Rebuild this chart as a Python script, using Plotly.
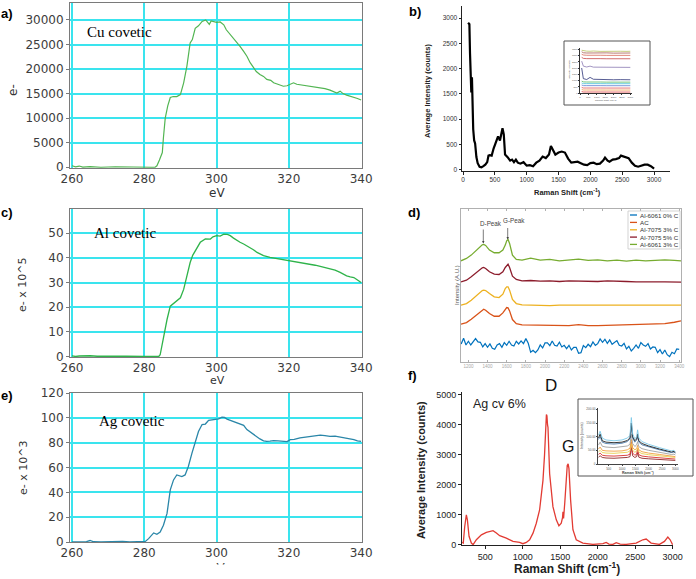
import plotly.graph_objects as go

W, H = 696, 579

# ---------------- panel a : Cu covetic (EELS) ----------------
cu_ev = [260, 261, 262, 263, 265, 268, 272, 276, 280, 282, 283, 283.5, 284.2, 285, 285.3, 285.8,
         286.5, 287.2, 288, 289, 290, 290.9, 291.8, 292.7, 293.3, 294.1, 295, 296, 297, 297.6, 298,
         298.5, 299, 300, 301, 302, 302.7, 303.5, 304.7, 305.5, 306.5, 307.5, 308.4, 309.3, 310.2,
         311, 312, 313, 313.9, 315, 315.8, 317, 318.5, 319.5, 320.4, 321.3, 322.2, 323.1, 324.5,
         325.9, 327.3, 328.7, 330, 331.4, 332.4, 333.3, 334.2, 335, 336, 337, 338, 339, 340]
cu_counts = [300, 100, 250, 50, 150, 0, 100, 0, 50, 0, 0, 300, 1500, 3000, 6000, 10000,
             12500, 14200, 14400, 14400, 14800, 17200, 20600, 25300, 26000, 28300, 28800, 29700, 30000, 29300, 29100,
             29800, 29700, 29500, 29600, 29000, 28000, 27300, 26300, 25500, 24600, 23600, 22600, 21300, 20200,
             19500, 18900, 18500, 17900, 17700, 17200, 16900, 16500, 16600, 16900, 17200, 16900, 16800, 16600,
             16400, 16300, 16100, 16000, 15700, 15300, 15100, 15500, 15000, 14700, 14500, 14300, 14000, 13700]
cu_ticks_y = [0, 5000, 10000, 15000, 20000, 25000, 30000]

# ---------------- panel c : Al covetic ----------------
al_ev = [260, 261, 262, 263.5, 265, 267, 270, 275, 280, 283, 284, 284.4, 285.3, 286.3, 287.2, 288.1,
         289, 290, 290.9, 291.8, 292.7, 293.4, 294.1, 295.5, 296.9, 298.3, 299, 300, 301, 302, 303,
         303.8, 304.7, 305.6, 306.5, 307.5, 308.4, 309.3, 310.2, 311.2, 312, 313, 314.8, 316, 317.6,
         319, 320.4, 322, 323.1, 324.5, 325.9, 327.3, 328.7, 330, 331.4, 332.8, 334.2, 335, 336, 337,
         338, 339, 340]
al_e5 = [0.3, 0, 0.2, 0.4, 0.3, 0.1, 0, 0.1, 0, 0, 0, 0.7, 8.2, 15, 20.4, 21.5,
         22.3, 23.8, 27.2, 32.7, 38.1, 41, 42.9, 46.3, 47.7, 47.6, 48.5, 49, 48.8, 49.6, 49.5,
         49, 48, 47, 46.3, 45.6, 44.8, 44.3, 43.3, 42.2, 41.5, 40.9, 40.2, 39.9, 39.5,
         39.2, 38.8, 38.6, 38.1, 37.8, 37.5, 37, 36.5, 36.1, 35.4, 35, 34.1, 33.5, 32.7, 32.3,
         32, 31, 30]
al_ticks_y = [0, 10, 20, 30, 40, 50]

# ---------------- panel e : Ag covetic ----------------
ag_ev = [260, 262, 264, 265, 266, 268, 270, 272, 274, 276, 278, 280, 280.3, 281.2, 282, 282.6,
         283.5, 284.4, 285.3, 286.3, 287.2, 288.1, 289, 289.7, 290.4, 291.3, 292.2, 293.2, 294.1, 295,
         296, 296.9, 297.8, 299.2, 300.6, 301.5, 302.2, 302.9, 303.8, 304.7, 305.6, 306.5, 307.5,
         308.4, 309.3, 310.2, 311.1, 312, 313, 313.9, 314.8, 315.8, 317, 318.5, 319.5, 320.4, 321.5,
         323.1, 324.5, 325.9, 327.3, 328.7, 330, 331.4, 332.8, 334.2, 335.5, 336.5, 338, 339, 340]
ag_e3 = [0, 0, 0.3, 1.2, 0.2, 0, 0.3, 0, 0.5, 0, 0, 0, 0.5, 2.7, 5, 7.3,
         6.2, 8, 13.5, 23, 42, 50, 54, 53.5, 52.7, 54, 60.8, 71.6, 81, 89,
         94.6, 95, 98, 98.6, 99.2, 100.5, 100.3, 99, 98, 96.5, 96, 95, 94,
         90.5, 88.5, 86.5, 84.5, 83, 81.5, 81, 81.2, 81.6, 81.4, 80.8, 80.9, 82.4, 82.6,
         83.8, 84.2, 85, 85.3, 86, 85.7, 85, 85.3, 84.6, 84, 83, 82.5, 81.5, 81]
ag_ticks_y = [0, 20, 40, 60, 80, 100, 120]

eels_ticks = [260, 280, 300, 320, 340]

# ---------------- panel b : Raman ----------------
b_shift = [80, 100, 110, 120, 130, 140, 150, 160, 175, 190, 210, 230, 260, 290, 320, 350, 380, 400, 420, 450,
           480, 520, 550, 580, 600, 620, 640, 660, 700, 740, 770, 800, 830, 860, 900, 950, 1000, 1050, 1100, 1150,
           1200, 1250, 1300, 1350, 1380, 1420, 1450, 1500, 1550, 1600, 1650, 1700, 1750, 1800, 1850, 1900, 1950,
           2000, 2050, 2100, 2150, 2200, 2230, 2270, 2300, 2350, 2400, 2450, 2480, 2520, 2560, 2600, 2650, 2700,
           2750, 2800, 2850, 2900, 2950, 3000]
b_counts = [2910, 2880, 2300, 1550, 1530, 1830, 1200, 800, 580, 520, 250, 130, 60, 50, 70, 100, 150, 280, 290, 280,
            420, 560, 660, 580, 700, 820, 700, 300, 250, 180, 200, 150, 200, 140, 120, 150, 80, 90, 70, 140,
            180, 260, 230, 300, 470, 380, 300, 340, 360, 340, 220, 140, 150, 160, 130, 100, 90,
            130, 140, 110, 120, 180, 240, 180, 160, 200, 210, 230, 280, 260, 250, 230, 140, 80,
            60, 80, 100, 100, 70, 20]
b_ticks_x = [0, 500, 1000, 1500, 2000, 2500, 3000]
b_ticks_y = [0, 500, 1000, 1500, 2000, 2500, 3000]

# inset of panel b
bin_shift = [100, 200, 400, 600, 800, 1200, 1600, 2000, 2400, 2800, 3000]
bin_1 = [3420, 3380, 3350, 3340, 3360, 3330, 3350, 3330, 3340, 3330, 3340]
bin_2 = [3300, 3220, 3200, 3210, 3190, 3200, 3210, 3190, 3200, 3190, 3200]
bin_3 = [3100, 3040, 3020, 3030, 3010, 3020, 3010, 3020, 3010, 3020, 3010]
bin_4 = [2850, 2770, 2750, 2760, 2740, 2750, 2740, 2750, 2740, 2750, 2740]
bin_5 = [2550, 2150, 2080, 2150, 2070, 2060, 2080, 2050, 2060, 2040, 2050]
bin_6 = [2000, 1150, 1080, 1250, 1100, 1070, 1090, 1060, 1070, 1050, 1060]
bin_7 = [950, 890, 880, 890, 870, 880, 870, 880, 870, 880, 870]
bin_8 = [800, 750, 750, 760, 745, 750, 745, 750, 745, 750, 745]
bin_9 = [640, 590, 590, 600, 585, 590, 585, 590, 585, 590, 585]
bin_10 = [450, 400, 400, 410, 395, 400, 395, 400, 395, 400, 395]
bin_11 = [290, 240, 240, 250, 235, 240, 235, 240, 235, 240, 235]
bin_12 = [120, 80, 80, 90, 75, 80, 75, 80, 75, 80, 75]

# ---------------- panel d : Raman of Al covetics (stacked, A.U.) ----------------
d_names = ["Al-6061 0% C", "AC", "Al-7075 3% C", "Al-7075 5% C", "Al-6061 3% C"]
d_shift = [1123, 1180, 1230, 1280, 1320, 1345, 1360, 1380, 1420, 1470, 1520, 1560, 1585, 1600, 1614, 1630,
           1660, 1700, 1760, 1850, 1950, 2050, 2150, 2250, 2350, 2450, 2550, 2650, 2750, 2850, 2950, 3050,
           3150, 3250, 3350, 3419]
d_green = [3.03, 3.10, 3.20, 3.33, 3.45, 3.51, 3.52, 3.49, 3.35, 3.27, 3.27, 3.35, 3.50, 3.63, 3.67, 3.55,
           3.20, 3.07, 3.05, 3.11, 3.05, 3.07, 3.03, 3.05, 3.08, 3.04, 3.06, 3.03, 3.05, 3.02, 3.05, 3.03,
           3.05, 3.06, 3.04, 3.03]
d_darkred = [2.40, 2.45, 2.55, 2.67, 2.77, 2.82, 2.83, 2.80, 2.70, 2.63, 2.62, 2.70, 2.83, 2.90, 2.93, 2.83,
             2.57, 2.47, 2.43, 2.44, 2.42, 2.43, 2.41, 2.43, 2.42, 2.42, 2.41, 2.43, 2.41, 2.41, 2.40, 2.41,
             2.40, 2.40, 2.39, 2.39]
d_orange = [1.70, 1.75, 1.85, 1.97, 2.09, 2.14, 2.15, 2.14, 2.05, 1.95, 1.93, 2.03, 2.20, 2.25, 2.25, 2.15,
            1.87, 1.75, 1.71, 1.70, 1.70, 1.69, 1.70, 1.70, 1.69, 1.70, 1.70, 1.69, 1.70, 1.70, 1.69, 1.70,
            1.70, 1.69, 1.70, 1.70]
d_red = [1.13, 1.18, 1.28, 1.40, 1.51, 1.57, 1.58, 1.55, 1.45, 1.37, 1.37, 1.47, 1.59, 1.63, 1.62, 1.53,
         1.27, 1.15, 1.11, 1.11, 1.10, 1.10, 1.10, 1.09, 1.12, 1.09, 1.09, 1.10, 1.10, 1.11, 1.11, 1.13,
         1.14, 1.15, 1.19, 1.23]
d_blue_shift = [1125, 1150, 1175, 1200, 1225, 1250, 1275, 1300, 1325, 1350,
                1375, 1400, 1425, 1450, 1475, 1500, 1525, 1550, 1575, 1600,
                1625, 1650, 1675, 1700, 1725, 1750, 1775, 1800, 1825, 1850,
                1875, 1900, 1925, 1950, 1975, 2000, 2025, 2050, 2075, 2100,
                2125, 2150, 2175, 2200, 2225, 2250, 2275, 2300, 2325, 2350,
                2375, 2400, 2425, 2450, 2475, 2500, 2525, 2550, 2575, 2600,
                2625, 2650, 2675, 2700, 2725, 2750, 2775, 2800, 2825, 2850,
                2875, 2900, 2925, 2950, 2975, 3000, 3025, 3050, 3075, 3100,
                3125, 3150, 3175, 3200, 3225, 3250, 3275, 3300, 3325, 3350,
                3375, 3400]
d_blue = [0.54, 0.71, 0.51, 0.62, 0.51, 0.62, 0.70, 0.60, 0.59, 0.45,
          0.55, 0.44, 0.54, 0.41, 0.38, 0.51, 0.55, 0.44, 0.58, 0.50,
          0.62, 0.51, 0.48, 0.62, 0.54, 0.63, 0.55, 0.70, 0.56, 0.29,
          0.35, 0.28, 0.36, 0.51, 0.42, 0.57, 0.57, 0.49, 0.63, 0.50,
          0.48, 0.59, 0.45, 0.50, 0.40, 0.50, 0.36, 0.44, 0.44, 0.26,
          0.28, 0.49, 0.43, 0.53, 0.46, 0.60, 0.50, 0.55, 0.69, 0.59,
          0.68, 0.56, 0.66, 0.53, 0.60, 0.64, 0.50, 0.48, 0.56, 0.39,
          0.47, 0.33, 0.41, 0.51, 0.41, 0.58, 0.51, 0.47, 0.55, 0.39,
          0.45, 0.44, 0.28, 0.37, 0.24, 0.36, 0.22, 0.16, 0.29, 0.25,
          0.39, 0.38]
d_ticks_x = [1200, 1400, 1600, 1800, 2000, 2200, 2400, 2600, 2800, 3000, 3200, 3400]

# ---------------- panel f : Ag cv 6% Raman ----------------
f_shift = [190, 205, 224, 240, 246, 260, 282, 313, 336, 380, 447, 513, 560, 602, 647, 691, 780, 869, 958, 1000,
           1047, 1091, 1136, 1180, 1224, 1269, 1290, 1304, 1315, 1322, 1330, 1336, 1358, 1380, 1402, 1447, 1482,
           1513, 1530, 1536, 1544, 1560, 1571, 1593, 1605, 1616, 1638, 1669, 1713, 1802, 1936, 2069, 2113, 2150,
           2202, 2247, 2300, 2380, 2513, 2602, 2647, 2713, 2824, 2891, 2936, 2967, 3000]
f_counts = [80, 55, 600, 950, 1000, 830, 280, 55, 0, 165, 330, 410, 440, 470, 390, 300, 220, 110, 77, 33,
            77, 165, 385, 717, 1160, 2150, 3000, 3800, 4350, 4300, 4000, 3920, 2370, 1700, 1270, 830, 630,
            720, 900, 1100, 880, 1400, 1930, 2650, 2700, 2540, 1490, 500, 165, 55, 10, 33, 77, 20,
            10, 66, 20, 10, 55, 165, 190, 55, 10, 110, 255, 165, 0]
f_ticks_x = [500, 1000, 1500, 2000, 2500, 3000]
f_ticks_y = [0, 1000, 2000, 3000, 4000, 5000]

# inset of panel f
fin_shift = [120, 180, 260, 400, 700, 1000, 1200, 1300, 1350, 1400, 1480, 1550, 1585, 1630, 1750, 2000,
             2400, 2700, 2850, 2950, 3000]
fin_a = [105, 120, 95, 88, 85, 88, 95, 105, 170, 110, 92, 100, 125, 95, 82, 72, 60, 52, 48, 50, 45]
fin_b = [95, 110, 85, 80, 78, 80, 86, 96, 150, 100, 85, 92, 110, 85, 75, 66, 55, 48, 44, 46, 42]
fin_c = [90, 100, 80, 75, 73, 76, 82, 92, 140, 95, 80, 88, 100, 80, 70, 62, 52, 45, 42, 44, 40]
fin_d = [70, 80, 65, 62, 60, 62, 66, 72, 110, 75, 64, 70, 82, 64, 56, 50, 42, 38, 35, 36, 33]
fin_e = [55, 62, 50, 48, 47, 48, 52, 58, 90, 60, 52, 56, 68, 52, 45, 40, 35, 31, 29, 30, 27]
fin_f = [45, 50, 42, 40, 39, 40, 43, 48, 75, 50, 43, 47, 58, 44, 38, 34, 30, 27, 25, 26, 24]
fin_g = [35, 40, 32, 30, 29, 30, 32, 36, 80, 40, 32, 36, 55, 34, 29, 26, 23, 21, 19, 20, 18]
fin_h = [25, 30, 24, 22, 21, 22, 24, 27, 60, 30, 24, 27, 42, 25, 21, 19, 17, 15, 14, 15, 13]
fin_ticks_y = [0, 50, 100, 150, 200]
fin_ticktext_y = ["0", "50.00", "100.00", "150.00", "200.00"]


# ====================== helpers ======================
def px(x):
    return x / W


def py(y):
    return 1 - y / H


fig = go.Figure()


def line(x, y, xa, ya, color, width):
    fig.add_trace(go.Scatter(x=x, y=y, mode="lines", line=dict(color=color, width=width),
                             xaxis=xa, yaxis=ya, showlegend=False, hoverinfo="skip"))


annotations = []
shapes = []


def txt(text, x, y, size, family="Liberation Sans", color="#000000", angle=0, xanchor="center"):
    annotations.append(dict(text=text, x=px(x), y=py(y), xref="paper", yref="paper", showarrow=False,
                            xanchor=xanchor, yanchor="middle", textangle=angle,
                            font=dict(family=family, size=size, color=color)))


# ====================== traces ======================
line(cu_ev, cu_counts, "x", "y", "#52b552", 1.2)
line(b_shift, b_counts, "x2", "y2", "#000000", 2.2)
line(al_ev, al_e5, "x3", "y3", "#2fb34a", 1.3)

d_colors = ["#0072BD", "#D95319", "#EDB120", "#8C1C2C", "#77AC30"]
line(d_blue_shift, d_blue, "x4", "y4", d_colors[0], 1.2)
line(d_shift, d_red, "x4", "y4", d_colors[1], 1.3)
line(d_shift, d_orange, "x4", "y4", d_colors[2], 1.3)
line(d_shift, d_darkred, "x4", "y4", d_colors[3], 1.3)
line(d_shift, d_green, "x4", "y4", d_colors[4], 1.3)

line(ag_ev, ag_e3, "x5", "y5", "#2a86a8", 1.3)
line(f_shift, f_counts, "x6", "y6", "#e23b33", 1.3)

bin_series = [bin_12, bin_11, bin_10, bin_9, bin_8, bin_7, bin_6, bin_5, bin_4, bin_3, bin_2, bin_1]
bin_colors = ["#e04040", "#f0a050", "#e05858", "#5a7ed0", "#48c0d8", "#50b860", "#2c3478",
              "#8a7ab2", "#c84848", "#d86a58", "#a85a50", "#b8c060"]
for s, c in zip(bin_series, bin_colors):
    line(bin_shift, s, "x7", "y7", c, 0.8)

fin_series = [fin_h, fin_g, fin_f, fin_e, fin_d, fin_c, fin_b, fin_a]
fin_colors = ["#902828", "#d83030", "#e8d050", "#f0a040", "#a0a0a0", "#5080b0", "#222222", "#7cc8e8"]
for s, c in zip(fin_series, fin_colors):
    line(fin_shift, s, "x8", "y8", c, 0.9)

# ====================== axes ======================
GRID = "#3ae4ee"
FRAME = "#7a7a7a"
EELS_FONT = dict(family="DejaVu Sans", size=12, color="#3c3c3c")


def eels_x(anchor):
    return dict(domain=[px(70), px(362)], anchor=anchor, range=[259.45, 340.25],
                tickmode="array", tickvals=eels_ticks, ticktext=[str(v) for v in eels_ticks],
                showgrid=True, gridcolor=GRID, gridwidth=1.6,
                showline=True, mirror=True, linecolor=FRAME, linewidth=1, ticks="",
                tickfont=EELS_FONT, zeroline=False)


def eels_y(top, bot, rng, vals, anchor):
    return dict(domain=[py(bot), py(top)], anchor=anchor, range=rng, tickmode="array", tickvals=vals,
                ticktext=[str(v) for v in vals],
                showgrid=True, gridcolor=GRID, gridwidth=1.6, showline=True, mirror=True,
                linecolor=FRAME, linewidth=1, ticks="outside", ticklen=3, tickcolor=FRAME,
                tickfont=EELS_FONT, zeroline=False)


raman_font_b = dict(family="Liberation Sans", size=6.5, color="#333333")

axes = dict(
    # a
    xaxis=eels_x("y"),
    yaxis=eels_y(3, 168, [-150, 33450], cu_ticks_y, "x"),
    # b
    xaxis2=dict(domain=[px(462), px(670)], anchor="y2", range=[-16, 3250], tickmode="array",
                tickvals=b_ticks_x, showgrid=False, zeroline=False, showline=True, linecolor="#222",
                linewidth=1, ticks="outside", ticklen=2.5, tickcolor="#222", tickfont=raman_font_b),
    yaxis2=dict(domain=[py(171), py(6)], anchor="x2", range=[-25, 3240], tickmode="array",
                tickvals=b_ticks_y, showgrid=False, zeroline=False, showline=True, linecolor="#222",
                linewidth=1, ticks="outside", ticklen=2.5, tickcolor="#222", tickfont=raman_font_b),
    # c
    xaxis3=eels_x("y3"),
    yaxis3=eels_y(209, 357, [-0.2, 59.8], al_ticks_y, "x3"),
    # d
    xaxis4=dict(domain=[px(461), px(681)], anchor="y4", range=[1123, 3419], tickmode="array",
                tickvals=d_ticks_x, showgrid=False, zeroline=False, showline=True, mirror="ticks",
                linecolor="#b0b0b0", linewidth=1, ticks="inside", ticklen=2, tickcolor="#b0b0b0",
                tickfont=dict(family="Liberation Sans", size=4.5, color="#a8a8a8")),
    yaxis4=dict(domain=[py(362), py(209)], anchor="x4", range=[0, 4.58], showticklabels=False,
                showgrid=False, zeroline=False, showline=True, mirror=True, linecolor="#b0b0b0",
                linewidth=1, ticks=""),
    # e
    xaxis5=eels_x("y5"),
    yaxis5=eels_y(393, 542, [0, 120], ag_ticks_y, "x5"),
    # f
    xaxis6=dict(domain=[px(462), px(673)], anchor="y6", range=[188, 3005], tickmode="array",
                tickvals=f_ticks_x, showgrid=False, zeroline=False, showline=True, linecolor="#222",
                linewidth=1, ticks="outside", ticklen=3, tickcolor="#222",
                tickfont=dict(family="Liberation Sans", size=9, color="#222")),
    yaxis6=dict(domain=[py(545), py(392)], anchor="x6", range=[-10, 5100], tickmode="array",
                tickvals=f_ticks_y, showgrid=False, zeroline=False, showline=True, linecolor="#222",
                linewidth=1, ticks="outside", ticklen=3, tickcolor="#222",
                tickfont=dict(family="Liberation Sans", size=9, color="#222")),
    # inset b
    xaxis7=dict(domain=[px(580), px(632)], anchor="y7", range=[0, 3100], tickmode="array",
                tickvals=[0, 500, 1000, 1500, 2000, 2500, 3000], showgrid=False, zeroline=False,
                showline=True, linecolor="#333", linewidth=0.8, ticks="outside", ticklen=1,
                tickcolor="#333", tickfont=dict(family="Liberation Sans", size=2.5, color="#555")),
    yaxis7=dict(domain=[py(93), py(48)], anchor="x7", range=[0, 3600], tickmode="array",
                tickvals=[0, 500, 1000, 1500, 2000, 2500, 3000, 3500], showgrid=False, zeroline=False,
                showline=True, linecolor="#333", linewidth=0.8, ticks="outside", ticklen=1,
                tickcolor="#333", tickfont=dict(family="Liberation Sans", size=2.5, color="#555")),
    # inset f
    xaxis8=dict(domain=[px(598), px(678)], anchor="y8", range=[100, 3100], tickmode="array",
                tickvals=f_ticks_x, showgrid=False, zeroline=False, showline=True, linecolor="#444",
                linewidth=0.8, ticks="outside", ticklen=1, tickcolor="#444",
                tickfont=dict(family="Liberation Sans", size=3, color="#555")),
    yaxis8=dict(domain=[py(464), py(408)], anchor="x8", range=[0, 205], tickmode="array",
                tickvals=fin_ticks_y, ticktext=fin_ticktext_y, showgrid=False, zeroline=False,
                showline=True, linecolor="#444", linewidth=0.8, ticks="outside", ticklen=1,
                tickcolor="#444", tickfont=dict(family="Liberation Sans", size=3, color="#555")),
)
for k in axes:
    axes[k]["automargin"] = False

# ====================== texts ======================
for lab, x, y in [("a)", 7, 13), ("b)", 415, 12), ("c)", 7, 213), ("d)", 414, 212), ("e)", 7, 395), ("f)", 413, 375)]:
    txt("<b>" + lab + "</b>", x, y, 13)

txt("Cu covetic", 119, 32, 15, family="Liberation Serif")
txt("Al covetic", 125, 233, 15, family="Liberation Serif")
txt("Ag covetic", 132, 421, 15, family="Liberation Serif")
txt("eV", 217, 193, 12, family="DejaVu Sans", color="#333")
txt("eV", 217, 380, 11, family="DejaVu Sans", color="#333")
txt("eV", 217, 568, 12, family="DejaVu Sans", color="#333")
annotations.append(dict(text="\u00a0", x=px(217), y=py(573), xref="paper", yref="paper", showarrow=False,
                        xanchor="center", yanchor="middle", width=60, height=14, bgcolor="white",
                        font=dict(size=8)))
txt("e-", 13, 90, 12, family="DejaVu Sans", color="#333", angle=-90)
txt("e- x 10^5", 22, 285, 11, family="DejaVu Sans", color="#333", angle=-90)
txt("e- x 10^3", 23, 468, 11, family="DejaVu Sans", color="#333", angle=-90)

# panel b titles
txt("<b>Average Intensity (counts)</b>", 428, 91, 7.5, color="#222", angle=-90)
txt("<b>Raman Shift (cm<sup>-1</sup>)</b>", 567, 192, 7.5, color="#222")
shapes.append(dict(type="rect", xref="paper", yref="paper", x0=px(564), x1=px(650), y0=py(105), y1=py(41),
                   line=dict(color="#555", width=1), fillcolor="rgba(0,0,0,0)", layer="above"))
txt("Intensity (counts)", 569, 70, 2.5, color="#555", angle=-90)
txt("Raman Shift (cm-1)", 606, 100, 2.5, color="#555")

# panel d texts
txt("Intensity (A.U.)", 457, 285, 6, color="#555", angle=-90)
txt("D-Peak", 491, 223, 6.3, color="#444")
txt("G-Peak", 514, 221, 6.3, color="#444")
for xa, y0, y1 in [(483.3, 228, 243.5), (507.7, 226.5, 239.5)]:
    annotations.append(dict(text="", x=px(xa), y=py(y1), xref="paper", yref="paper", showarrow=True,
                            ax=0, ay=-(y1 - y0), arrowhead=2, arrowsize=0.7, arrowwidth=0.7,
                            arrowcolor="#444"))
shapes.append(dict(type="rect", xref="paper", yref="paper", x0=px(628), x1=px(680), y0=py(249), y1=py(211),
                   line=dict(color="#c8c8c8", width=0.8), fillcolor="white", layer="above"))
leg_y = [215, 222.4, 229.8, 237.1, 244.4]
for name, col, yy in zip(d_names, d_colors, leg_y):
    shapes.append(dict(type="line", xref="paper", yref="paper", x0=px(630), x1=px(637), y0=py(yy), y1=py(yy),
                       line=dict(color=col, width=1.3), layer="above"))
    txt(name, 637.8, yy, 6.2, color="#333", xanchor="left")

# panel f texts
txt("<b>Average Intensity (counts)</b>", 421, 470, 11, color="#222", angle=-90)
txt("<b>Raman Shift (cm<sup>-1</sup>)</b>", 567, 568, 12, color="#222")
txt("Ag cv 6%", 499, 404, 12.5, color="#222")
txt("D", 551, 385, 17, color="#111")
txt("G", 568, 446, 16, color="#111")
shapes.append(dict(type="rect", xref="paper", yref="paper", x0=px(578), x1=px(693), y0=py(476), y1=py(399),
                   line=dict(color="#555", width=1), fillcolor="rgba(0,0,0,0)", layer="above"))
txt("Intensity (counts)", 582, 436, 3.5, color="#444", angle=-90)
txt("<b>Raman Shift (cm<sup>-1</sup>)</b>", 638, 472.5, 3.6, color="#444")

fig.update_layout(width=W, height=H, margin=dict(l=0, r=0, t=0, b=0),
                  paper_bgcolor="white", plot_bgcolor="white", showlegend=False,
                  annotations=annotations, shapes=shapes, **axes)

fig.write_html("out.html", config={"displayModeBar": False},
               post_script="document.body.style.margin='0px';")
